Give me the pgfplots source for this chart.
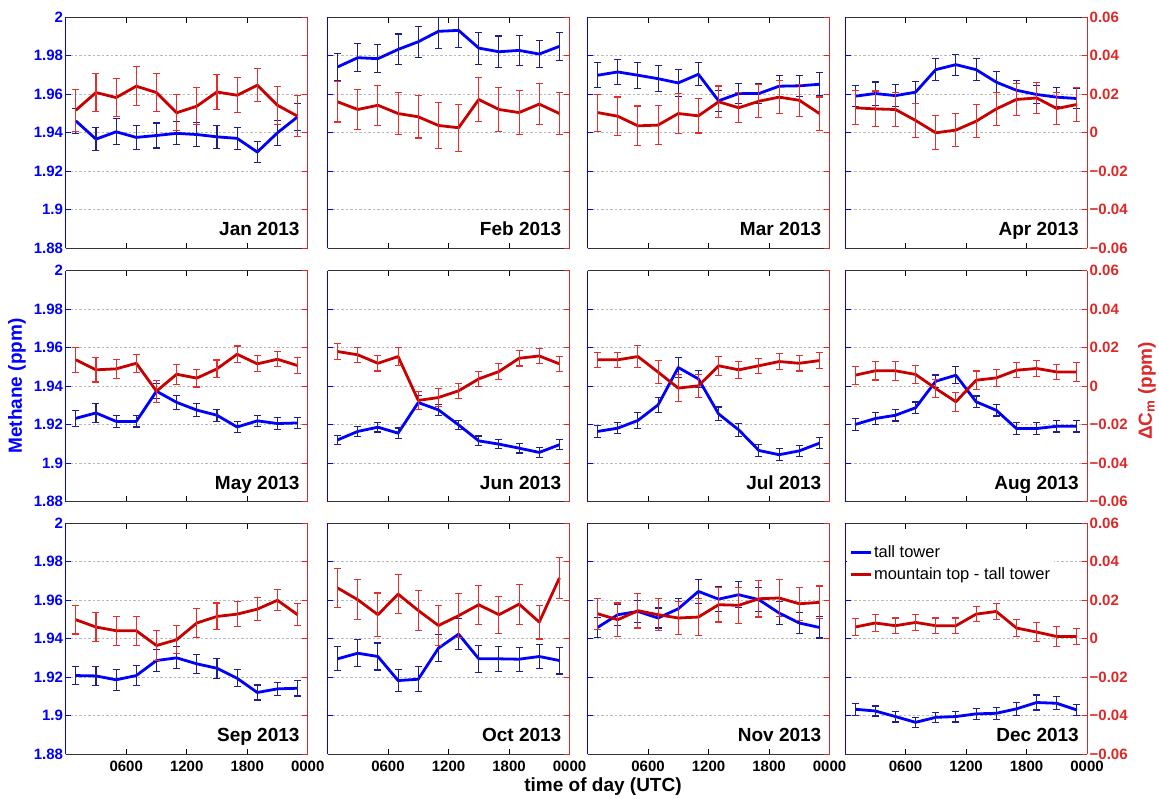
\documentclass[border=0pt]{standalone}
\usepackage{pgfplots}
\pgfplotsset{compat=1.18}
\usepackage{pgfplotstable}
\usepackage{fontspec}
\setmainfont{Liberation Sans}

\definecolor{towerblue}{RGB}{0,0,255}
\definecolor{towerbar}{RGB}{30,30,140}
\definecolor{diffred}{RGB}{200,0,0}
\definecolor{diffbar}{RGB}{228,45,45}
\definecolor{axisred}{RGB}{222,40,40}
\definecolor{gridgray}{RGB}{185,185,185}

% columns: hour (UTC), tall-tower CH4 and its error, mountain top minus tall tower and its error
\pgfplotstableread{
h ch4 ch4e dc dce
1 1.9462 0.0066 0.0117 0.0108
3 1.9367 0.0060 0.0209 0.0100
5 1.9405 0.0068 0.0183 0.0100
7 1.9376 0.0062 0.0242 0.0100
9 1.9386 0.0065 0.0209 0.0100
11 1.9397 0.0060 0.0104 0.0093
13 1.9391 0.0062 0.0138 0.0095
15 1.9379 0.0060 0.0212 0.0093
17 1.9371 0.0058 0.0195 0.0090
19 1.9300 0.0056 0.0247 0.0086
21 1.9400 0.0065 0.0143 0.0098
23 1.9483 0.0070 0.0086 0.0106
}\janT
\pgfplotstableread{
h ch4 ch4e dc dce
1 1.9742 0.0071 0.0161 0.0105
3 1.9790 0.0073 0.0121 0.0105
5 1.9785 0.0073 0.0143 0.0104
7 1.9833 0.0080 0.0100 0.0110
9 1.9873 0.0081 0.0083 0.0110
11 1.9927 0.0090 0.0038 0.0118
13 1.9932 0.0090 0.0026 0.0123
15 1.9840 0.0083 0.0173 0.0116
17 1.9821 0.0082 0.0121 0.0115
19 1.9828 0.0077 0.0105 0.0114
21 1.9809 0.0070 0.0149 0.0108
23 1.9849 0.0073 0.0100 0.0109
}\febT
\pgfplotstableread{
h ch4 ch4e dc dce
1 1.9699 0.0065 0.0105 0.0096
3 1.9716 0.0065 0.0086 0.0100
5 1.9699 0.0068 0.0036 0.0103
7 1.9681 0.0067 0.0040 0.0100
9 1.9659 0.0070 0.0100 0.0104
11 1.9704 0.0060 0.0088 0.0089
13 1.9566 0.0056 0.0161 0.0082
15 1.9604 0.0052 0.0130 0.0078
17 1.9604 0.0052 0.0164 0.0085
19 1.9642 0.0055 0.0185 0.0086
21 1.9644 0.0055 0.0169 0.0084
23 1.9652 0.0060 0.0100 0.0086
}\marT
\pgfplotstableread{
h ch4 ch4e dc dce
1 1.9590 0.0054 0.0130 0.0088
3 1.9604 0.0060 0.0124 0.0093
5 1.9593 0.0057 0.0121 0.0090
7 1.9611 0.0057 0.0064 0.0089
9 1.9728 0.0056 0.0000 0.0088
11 1.9754 0.0055 0.0014 0.0087
13 1.9728 0.0056 0.0060 0.0085
15 1.9663 0.0056 0.0124 0.0084
17 1.9621 0.0050 0.0173 0.0082
19 1.9599 0.0048 0.0181 0.0081
21 1.9585 0.0050 0.0126 0.0085
23 1.9578 0.0050 0.0147 0.0088
}\aprT
\pgfplotstableread{
h ch4 ch4e dc dce
1 1.9233 0.0043 0.0137 0.0064
3 1.9261 0.0048 0.0085 0.0063
5 1.9217 0.0031 0.0090 0.0048
7 1.9217 0.0029 0.0119 0.0047
9 1.9374 0.0040 -0.0026 0.0057
11 1.9316 0.0037 0.0062 0.0052
13 1.9276 0.0034 0.0042 0.0046
15 1.9249 0.0031 0.0090 0.0046
17 1.9188 0.0030 0.0166 0.0043
19 1.9220 0.0030 0.0116 0.0042
21 1.9206 0.0030 0.0140 0.0040
23 1.9209 0.0029 0.0107 0.0040
}\mayT
\pgfplotstableread{
h ch4 ch4e dc dce
1 1.9121 0.0025 0.0180 0.0041
3 1.9165 0.0025 0.0163 0.0040
5 1.9187 0.0025 0.0119 0.0040
7 1.9156 0.0027 0.0154 0.0045
9 1.9315 0.0035 -0.0074 0.0045
11 1.9277 0.0030 -0.0059 0.0048
13 1.9199 0.0025 -0.0024 0.0040
15 1.9116 0.0025 0.0038 0.0040
17 1.9099 0.0025 0.0076 0.0040
19 1.9078 0.0025 0.0145 0.0040
21 1.9056 0.0025 0.0157 0.0040
23 1.9096 0.0025 0.0116 0.0040
}\junT
\pgfplotstableread{
h ch4 ch4e dc dce
1 1.9165 0.0031 0.0137 0.0040
3 1.9182 0.0030 0.0137 0.0040
5 1.9222 0.0040 0.0154 0.0057
7 1.9303 0.0040 0.0073 0.0060
9 1.9497 0.0052 -0.0010 0.0071
11 1.9438 0.0044 0.0002 0.0060
13 1.9256 0.0036 0.0106 0.0050
15 1.9173 0.0034 0.0085 0.0045
17 1.9066 0.0030 0.0106 0.0040
19 1.9044 0.0030 0.0128 0.0040
21 1.9064 0.0030 0.0119 0.0040
23 1.9104 0.0030 0.0133 0.0040
}\julT
\pgfplotstableread{
h ch4 ch4e dc dce
1 1.9201 0.0030 0.0057 0.0046
3 1.9232 0.0030 0.0080 0.0048
5 1.9249 0.0030 0.0080 0.0050
7 1.9288 0.0030 0.0061 0.0045
9 1.9426 0.0032 -0.0012 0.0048
11 1.9457 0.0045 -0.0081 0.0050
13 1.9319 0.0030 0.0031 0.0048
15 1.9275 0.0030 0.0043 0.0043
17 1.9180 0.0030 0.0083 0.0040
19 1.9180 0.0030 0.0092 0.0040
21 1.9192 0.0030 0.0074 0.0040
23 1.9192 0.0030 0.0074 0.0050
}\augT
\pgfplotstableread{
h ch4 ch4e dc dce
1 1.9209 0.0048 0.0099 0.0074
3 1.9207 0.0050 0.0061 0.0074
5 1.9187 0.0055 0.0042 0.0075
7 1.9209 0.0052 0.0042 0.0075
9 1.9287 0.0058 -0.0035 0.0076
11 1.9301 0.0057 -0.0005 0.0072
13 1.9270 0.0050 0.0082 0.0075
15 1.9247 0.0052 0.0116 0.0070
17 1.9195 0.0044 0.0128 0.0064
19 1.9121 0.0039 0.0154 0.0060
21 1.9140 0.0033 0.0200 0.0054
23 1.9143 0.0040 0.0125 0.0056
}\sepT
\pgfplotstableread{
h ch4 ch4e dc dce
1 1.9296 0.0062 0.0264 0.0100
3 1.9325 0.0070 0.0203 0.0104
5 1.9308 0.0070 0.0125 0.0113
7 1.9183 0.0058 0.0232 0.0102
9 1.9190 0.0065 0.0147 0.0102
11 1.9351 0.0070 0.0069 0.0104
13 1.9424 0.0080 0.0120 0.0113
15 1.9296 0.0069 0.0177 0.0102
17 1.9296 0.0065 0.0125 0.0096
19 1.9294 0.0063 0.0180 0.0104
21 1.9308 0.0063 0.0087 0.0088
23 1.9287 0.0070 0.0316 0.0108
}\octT
\pgfplotstableread{
h ch4 ch4e dc dce
1 1.9459 0.0053 0.0130 0.0080
3 1.9525 0.0056 0.0099 0.0087
5 1.9542 0.0057 0.0146 0.0090
7 1.9508 0.0052 0.0125 0.0083
9 1.9556 0.0052 0.0108 0.0088
11 1.9646 0.0062 0.0113 0.0095
13 1.9606 0.0063 0.0177 0.0090
15 1.9629 0.0068 0.0174 0.0094
17 1.9603 0.0063 0.0208 0.0095
19 1.9534 0.0058 0.0212 0.0097
21 1.9482 0.0056 0.0182 0.0086
23 1.9459 0.0055 0.0189 0.0085
}\novT
\pgfplotstableread{
h ch4 ch4e dc dce
1 1.9034 0.0032 0.0061 0.0045
3 1.9025 0.0026 0.0082 0.0045
5 1.8996 0.0028 0.0068 0.0040
7 1.8966 0.0025 0.0085 0.0043
9 1.8992 0.0026 0.0068 0.0040
11 1.8996 0.0028 0.0068 0.0040
13 1.9010 0.0030 0.0128 0.0040
15 1.9013 0.0030 0.0142 0.0042
17 1.9036 0.0034 0.0056 0.0043
19 1.9069 0.0039 0.0035 0.0050
21 1.9065 0.0034 0.0012 0.0050
23 1.9030 0.0030 0.0012 0.0043
}\decT

\pgfplotsset{
  panel/.style={
    scale only axis, width=242pt, height=231pt, anchor=south west,
    xmin=0, xmax=24, xtick={6,12,18,24},
    tick align=inside, major tick length=5.5pt,
    separate axis lines, scaled y ticks=false,
    tick label style={font=\fontsize{15}{15}\selectfont\bfseries},
  },
  leftax/.style={panel,
    ymin=1.88, ymax=2,
    ytick={1.88,1.9,1.92,1.94,1.96,1.98,2},
    yticklabels={1.88,1.9,1.92,1.94,1.96,1.98,2},
    xticklabels={},
    axis x line*=box, axis y line*=left,
    x axis line style={line width=0.8pt, black!80},
    y axis line style={line width=0.8pt, towerblue},
    xtick style={line width=0.8pt, black},
    ytick style={line width=0.8pt, towerblue},
    yticklabel style={text=towerblue, inner sep=0pt, xshift=-2.5pt},
    xticklabel style={text=black, inner sep=0pt, yshift=-7pt},
    ymajorgrids,
    grid style={gridgray, line width=0.6pt, dash pattern=on 2.5pt off 2pt},
  },
  rightax/.style={panel,
    ymin=-0.06, ymax=0.06,
    ytick={-0.06,-0.04,-0.02,0,0.02,0.04,0.06},
    yticklabels={},
    axis x line=none, axis y line*=right,
    y axis line style={line width=0.8pt, axisred},
    ytick style={line width=0.8pt, axisred},
    yticklabel style={text=axisred, inner sep=0pt, xshift=2.5pt},
  },
  towerplot/.style={towerblue, line width=2.8pt, line join=round, mark=none,
    error bars/.cd, y dir=both, y explicit,
    error bar style={towerbar, line width=1.1pt, solid},
    error mark options={towerbar, line width=1.1pt, mark size=3.5pt, rotate=90}},
  diffplot/.style={diffred, line width=2.8pt, line join=round, mark=none,
    error bars/.cd, y dir=both, y explicit,
    error bar style={diffbar, line width=1.1pt, solid},
    error mark options={diffbar, line width=1.1pt, mark size=3.5pt, rotate=90}},
  declegend/.style={
    legend style={at={(0,1)}, anchor=north west, draw=none, fill=white,
      font=\fontsize{16.5}{16.5}\selectfont, inner xsep=2pt, inner ysep=2pt,
      row sep=5pt, xshift=2pt, yshift=-18pt},
    legend cell align=left,
    legend image code/.code={\draw[##1] (0pt,0pt) -- (20pt,0pt);},
  },
}

% #1 left, #2 bottom, #3 table, #4 month, #5 left-axis extras, #6 right-axis extras, #7 extra right-axis content
\newcommand{\monthpanel}[7]{%
  \begin{axis}[leftax, at={(#1pt,#2pt)}, #5]
    \addplot[towerplot] table[x=h, y=ch4, y error=ch4e] {#3};
  \end{axis}
  \begin{axis}[rightax, at={(#1pt,#2pt)}, #6]
    #7
    \addplot[forget plot, diffplot] table[x=h, y=dc, y error=dce] {#3};
    \node[anchor=base east, inner sep=0pt, font=\fontsize{19}{19}\selectfont\bfseries,
      xshift=-8pt, yshift=12.5pt] at (rel axis cs:1,0) {#4};
  \end{axis}
}

\newcommand{\rightlabels}{yticklabels={−0.06,−0.04,−0.02,0,0.02,0.04,0.06}}
\newcommand{\bottomlabels}{xticklabels={0600,1200,1800,0000}}

\begin{document}
\begin{tikzpicture}[x=1pt,y=1pt]
  \path[use as bounding box] (0,0) rectangle (1159,799);

  % row 1
  \monthpanel{65.7}{550.7}{\janT}{Jan 2013}{}{}{}
  \monthpanel{327.5}{550.7}{\febT}{Feb 2013}{yticklabels={}}{}{}
  \monthpanel{587.5}{550.7}{\marT}{Mar 2013}{yticklabels={}}{}{}
  \monthpanel{845}{550.7}{\aprT}{Apr 2013}{yticklabels={}}{\rightlabels}{}
  % row 2
  \monthpanel{65.7}{297.3}{\mayT}{May 2013}{}{}{}
  \monthpanel{327.5}{297.3}{\junT}{Jun 2013}{yticklabels={}}{}{}
  \monthpanel{587.5}{297.3}{\julT}{Jul 2013}{yticklabels={}}{}{}
  \monthpanel{845}{297.3}{\augT}{Aug 2013}{yticklabels={}}{\rightlabels}{}
  % row 3
  \monthpanel{65.7}{44.7}{\sepT}{Sep 2013}{\bottomlabels}{}{}
  \monthpanel{327.5}{44.7}{\octT}{Oct 2013}{yticklabels={},\bottomlabels}{}{}
  \monthpanel{587.5}{44.7}{\novT}{Nov 2013}{yticklabels={},\bottomlabels}{}{}
  \monthpanel{845}{44.7}{\decT}{Dec 2013}{yticklabels={},\bottomlabels}{\rightlabels,declegend}{%
    \addlegendimage{towerblue, line width=2.8pt}\addlegendentry{tall tower}
    \addlegendimage{diffred, line width=2.8pt}\addlegendentry{mountain top - tall tower}}

  % shared axis titles
  \node[rotate=90, font=\fontsize{19}{19}\selectfont\bfseries, text=towerblue] at (17,413) {Methane (ppm)};
  \node[rotate=90, font=\fontsize{19}{19}\selectfont\bfseries, text=axisred] at (1147,408) {ΔC\textsubscript{m} (ppm)};
  \node[font=\fontsize{19}{19}\selectfont\bfseries] at (603,12) {time of day (UTC)};
\end{tikzpicture}
\end{document}
